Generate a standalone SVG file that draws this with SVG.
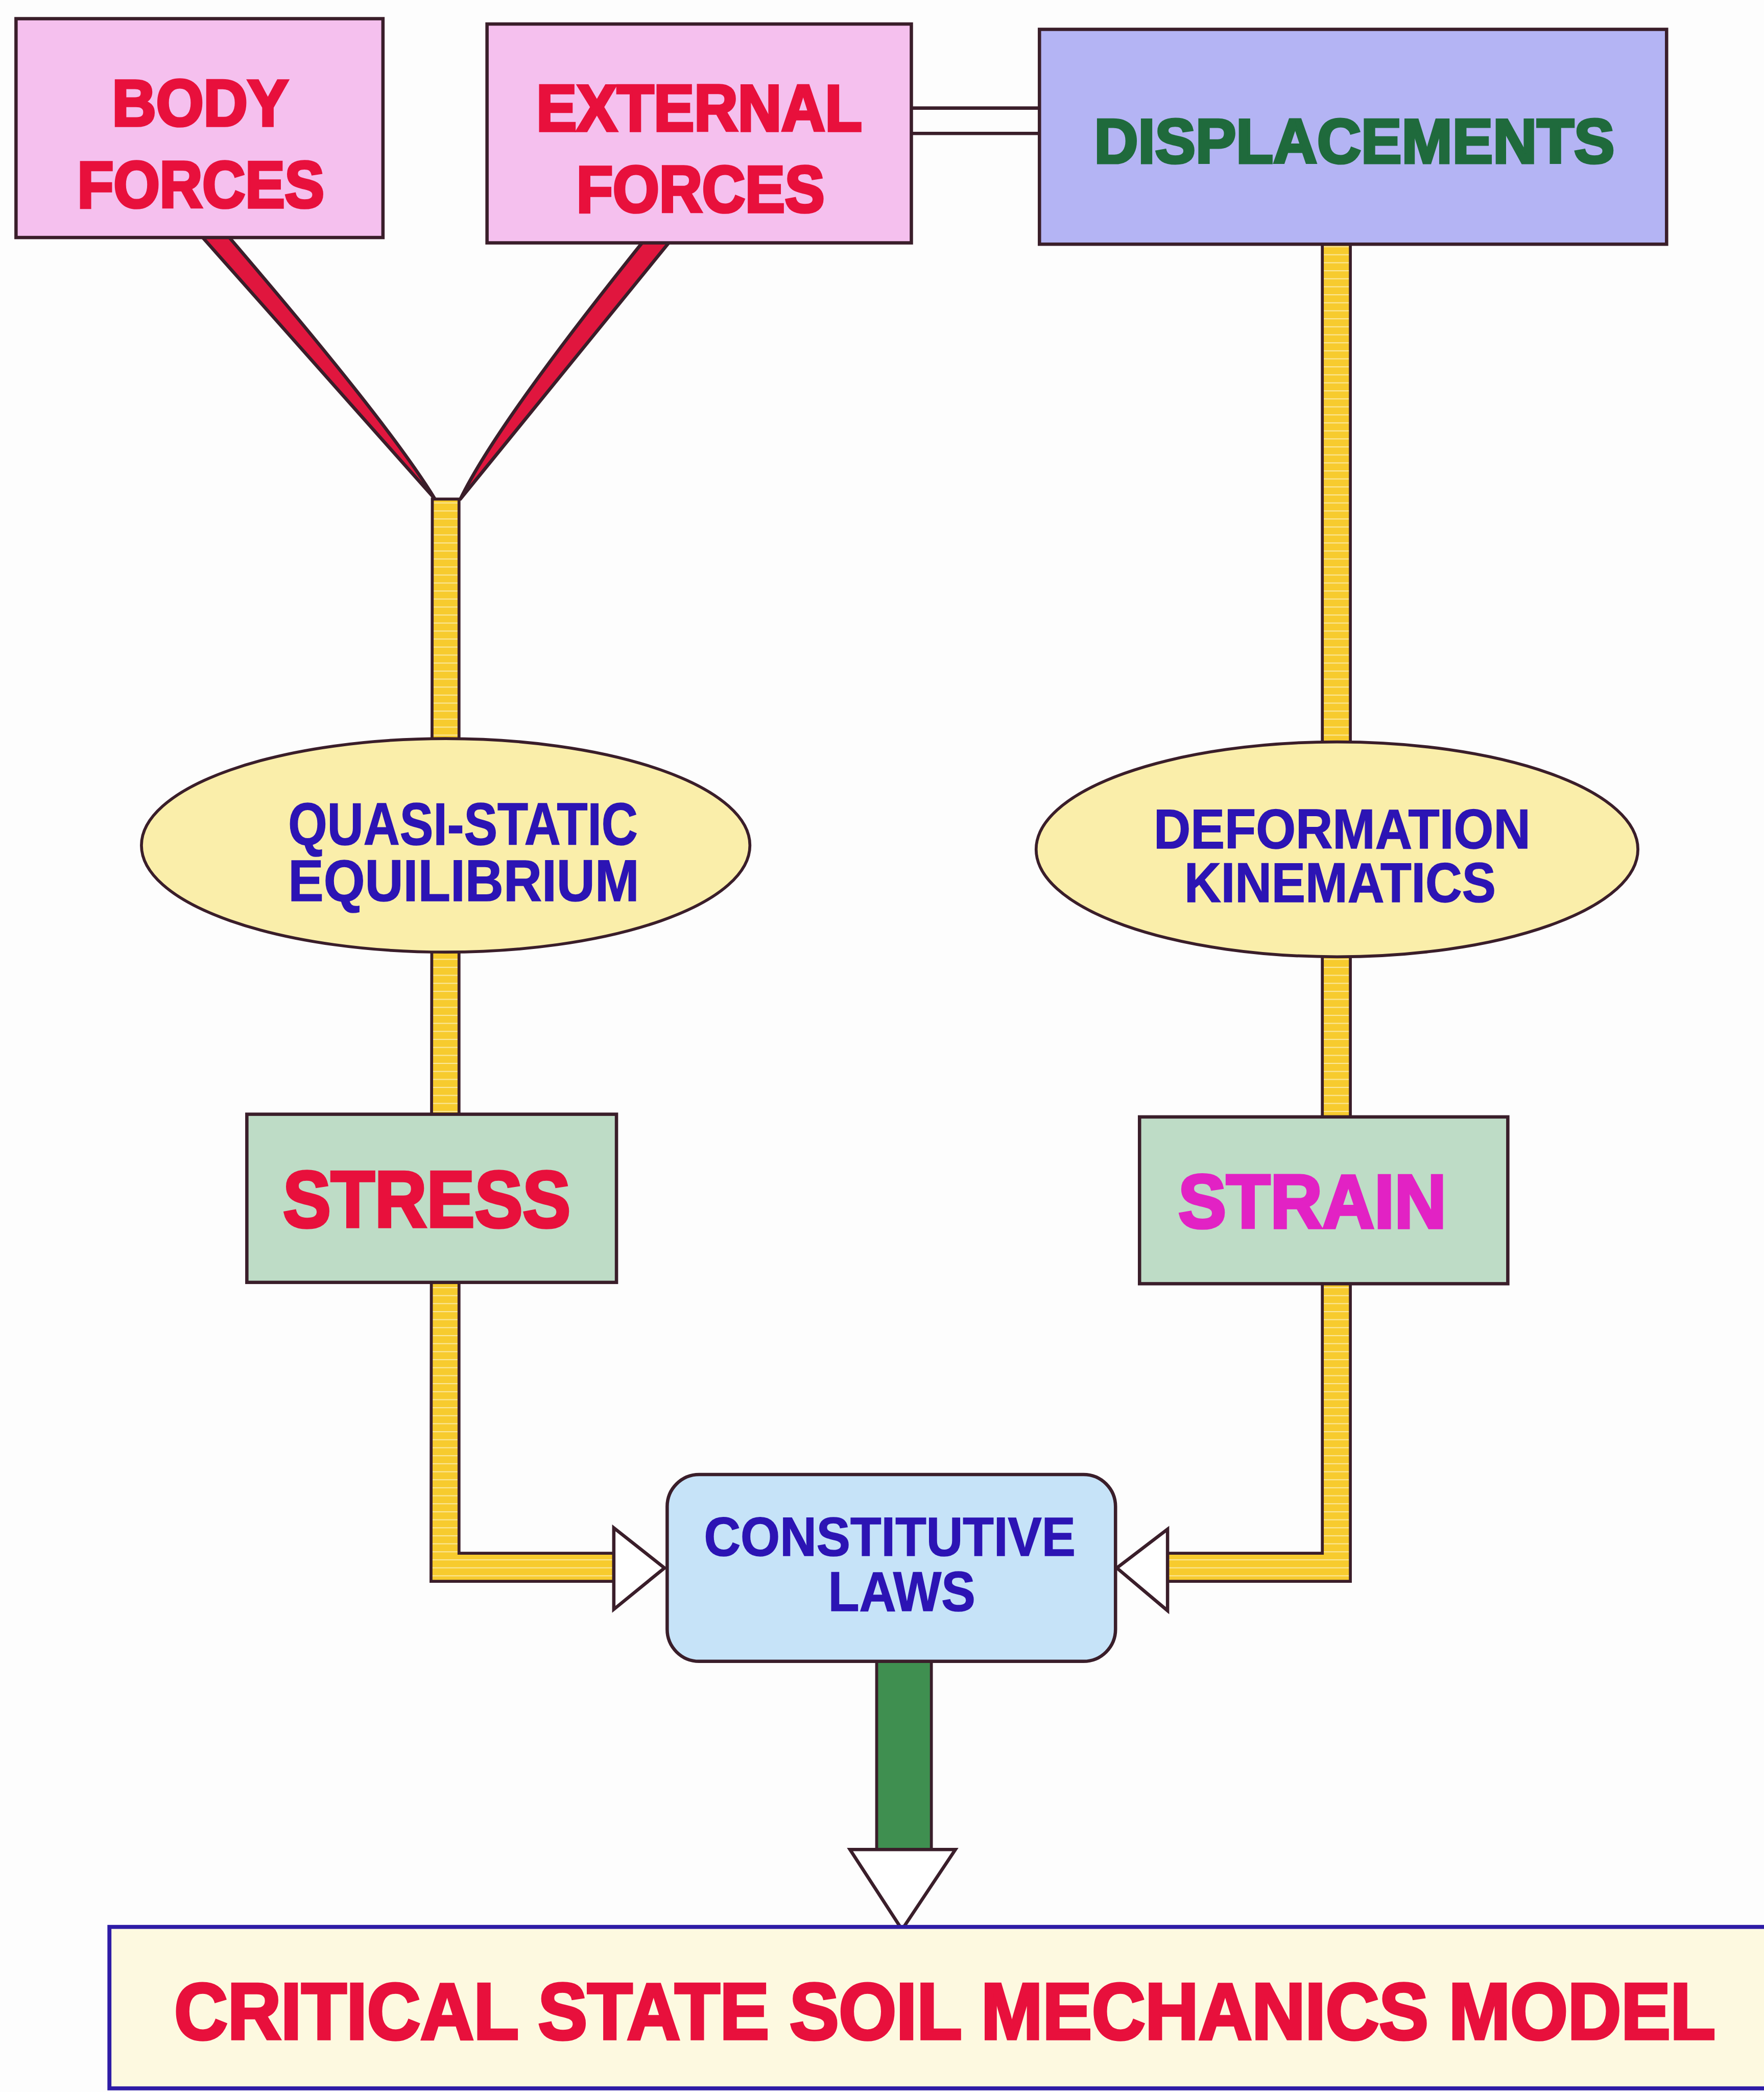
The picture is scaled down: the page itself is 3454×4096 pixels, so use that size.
<svg xmlns="http://www.w3.org/2000/svg" width="3454" height="4096" viewBox="0 0 3454 4096">
<style>
.box{stroke:#3a1e2a;stroke-width:2.5}
.pink{fill:#f5c0ee}
.lav{fill:#b4b4f4}
.ell{fill:#faeeaa;stroke:#3a1e2a;stroke-width:2.2}
.grn{fill:#bedcc6}
.cl{fill:#c6e3f8;stroke:#3a1e2a;stroke-width:2.5}
.bar{fill:#f7cb2e;stroke:#3a1e2a;stroke-width:2.2}
.wedge{fill:#e0163e;stroke:#3a1e2a;stroke-width:2.5;stroke-linejoin:round}
.head{stroke:#3a1e2a;stroke-width:2.5;fill:#ffffff}
.t{font-family:"Liberation Sans",Arial,sans-serif;font-weight:bold}
.red{fill:#e8103c;stroke:#e8103c;stroke-width:2.2}
.blue{fill:#2c14b4;stroke:#2c14b4;stroke-width:0.6}
.dgrn{fill:#1f6a3c;stroke:#1f6a3c;stroke-width:2}
.mag{fill:#e222c4;stroke:#e222c4;stroke-width:2.2}
</style>
<defs>
<pattern id="stripe" width="6" height="6" patternUnits="userSpaceOnUse">
<rect width="6" height="6" fill="#f7cb2e"/>
<rect y="4.5" width="6" height="0.8" fill="#fbe79a"/>
</pattern>
</defs>
<rect width="3454" height="4096" fill="#fdfdfd"/>
<g transform="scale(2.61271)">
<g id="connectors">
<path class="wedge" d="M151,177 L171,177 Q292,318 326,374 Z"/>
<path class="wedge" d="M502,181 L482,181 Q372,318 345,374 Z"/>
<path class="bar" style="fill:url(#stripe)" d="M324,374 H344 V1164 H460 V1185 H323 Z"/>
<path class="bar" style="fill:url(#stripe)" d="M991,182 H1012 V1185 H875 V1164 H991 Z"/>
<line x1="683" y1="81" x2="779" y2="81" stroke="#3a1e2a" stroke-width="2.5"/>
<line x1="683" y1="100" x2="779" y2="100" stroke="#3a1e2a" stroke-width="2.5"/>
<rect x="657" y="1245" width="41" height="141" fill="#3f8f50" stroke="#3a1e2a" stroke-width="2.2"/>
<polygon class="head" points="460,1145 460,1206 498,1175"/>
<polygon class="head" points="875,1146 875,1207 837,1175"/>
<polygon class="head" points="637,1386 716,1386 676,1446"/>
</g>
<g id="body-forces">
<rect class="box pink" x="12" y="14" width="275" height="164"/>
<text class="t red" x="84" y="94" font-size="49" textLength="132" lengthAdjust="spacingAndGlyphs">BODY</text>
<text class="t red" x="58" y="155.5" font-size="49" textLength="185" lengthAdjust="spacingAndGlyphs">FORCES</text>
</g>
<g id="external-forces">
<rect class="box pink" x="365" y="18" width="318" height="164"/>
<text class="t red" x="402" y="98" font-size="49" textLength="244" lengthAdjust="spacingAndGlyphs">EXTERNAL</text>
<text class="t red" x="432" y="159" font-size="49" textLength="186" lengthAdjust="spacingAndGlyphs">FORCES</text>
</g>
<g id="displacements">
<rect class="box lav" x="779" y="22" width="470" height="161"/>
<text class="t dgrn" x="820" y="122" font-size="47" textLength="390" lengthAdjust="spacingAndGlyphs">DISPLACEMENTS</text>
</g>
<g id="quasi-static">
<ellipse class="ell" cx="334" cy="633.5" rx="228" ry="80"/>
<text class="t blue" x="216" y="633" font-size="45" textLength="262" lengthAdjust="spacingAndGlyphs">QUASI-STATIC</text>
<text class="t blue" x="216" y="675" font-size="44" textLength="263" lengthAdjust="spacingAndGlyphs">EQUILIBRIUM</text>
</g>
<g id="deformation">
<ellipse class="ell" cx="1002" cy="636.5" rx="225.5" ry="80.5"/>
<text class="t blue" x="864.6" y="635.7" font-size="42" textLength="282.4" lengthAdjust="spacingAndGlyphs">DEFORMATION</text>
<text class="t blue" x="887.6" y="676" font-size="42" textLength="233.4" lengthAdjust="spacingAndGlyphs">KINEMATICS</text>
</g>
<g id="stress">
<rect class="box grn" x="185" y="835" width="277" height="126"/>
<text class="t red" x="212" y="919.5" font-size="60" textLength="215.6" lengthAdjust="spacingAndGlyphs">STRESS</text>
</g>
<g id="strain">
<rect class="box grn" x="854" y="837" width="276" height="125"/>
<text class="t mag" x="883" y="920" font-size="57" textLength="201" lengthAdjust="spacingAndGlyphs">STRAIN</text>
</g>
<g id="constitutive-laws">
<rect class="cl" x="500" y="1105" width="336" height="140" rx="24" ry="24"/>
<text class="t blue" x="527.6" y="1166" font-size="41" textLength="278.4" lengthAdjust="spacingAndGlyphs">CONSTITUTIVE</text>
<text class="t blue" x="620.6" y="1207" font-size="42" textLength="110.4" lengthAdjust="spacingAndGlyphs">LAWS</text>
</g>
<g id="model">
<rect x="82" y="1444" width="1260" height="121" fill="#fdf9e0" stroke="#2e1ca6" stroke-width="3"/>
<text class="t red" x="130.6" y="1528" font-size="60" textLength="1155" lengthAdjust="spacingAndGlyphs">CRITICAL STATE SOIL MECHANICS MODEL</text>
</g>
</g>
</svg>
